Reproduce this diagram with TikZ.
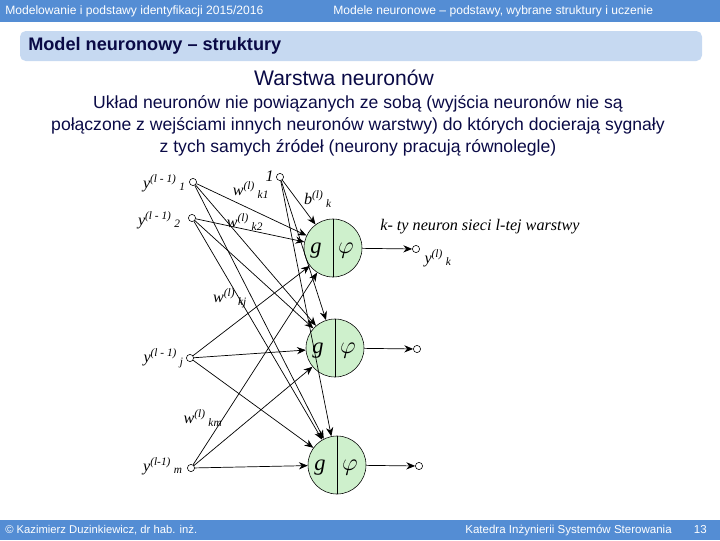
\documentclass[tikz,border=0pt]{standalone}
\usepackage{fontspec}
\setmainfont{Liberation Sans}
\newfontfamily\tnr{Liberation Serif}
\usetikzlibrary{arrows.meta}
\definecolor{barblue}{RGB}{84,141,212}
\definecolor{titlebg}{RGB}{198,217,241}
\definecolor{navy}{RGB}{10,10,70}
\definecolor{neurongreen}{RGB}{206,240,204}
\begin{document}
\begin{tikzpicture}[x=0.025cm,y=-0.025cm,>={Stealth[length=2.2mm,width=1.8mm]},
  neuron/.style={circle,draw,fill=neurongreen,minimum size=1.45cm,inner sep=0pt},
  port/.style={circle,draw,fill=white,minimum size=1.8mm,inner sep=0pt},
  lbl/.style={font=\tnr\itshape\fontsize{11.5}{11.5}\selectfont,inner sep=0pt},
  fn/.style={font=\tnr\itshape\fontsize{16}{16}\selectfont,inner sep=0pt,anchor=base},
  wire/.style={->,line width=0.5pt},
  bartext/.style={text=white,font=\fontsize{8.6}{8.6}\selectfont,inner sep=0pt}]
  \useasboundingbox (0,0) rectangle (720,540);
  \fill[barblue] (0,0) rectangle (720,22);
  \fill[barblue] (0,520) rectangle (720,540);
  \fill[titlebg,rounded corners=4pt] (20,31) rectangle (702,61);
  \node[bartext,anchor=west] (hl) at (5,11) {Modelowanie i podstawy identyfikacji 2015/2016};
  \node[bartext,anchor=west] (hr) at (333,11) {Modele neuronowe – podstawy, wybrane struktury i uczenie};
  \node[bartext,anchor=west,font=\fontsize{8}{8}\selectfont] (fl) at (5,530) {© Kazimierz Duzinkiewicz, dr hab. inż.};
  \node[bartext,anchor=east,font=\fontsize{8.2}{8.2}\selectfont] (fr) at (672,530) {Katedra Inżynierii Systemów Sterowania};
  \node[bartext,anchor=east,font=\fontsize{8.2}{8.2}\selectfont] (pg) at (707,530) {13};
  \node[anchor=west,inner sep=0pt,text=navy,font=\bfseries\fontsize{12.9}{12.9}\selectfont] (title) at (28,46) {Model neuronowy – struktury};
  \node[inner sep=0pt,text=navy,font=\fontsize{15}{15}\selectfont] (head) at (344,78) {Warstwa neuronów};
  \node[inner sep=0pt,text=navy,align=center,font=\fontsize{12.5}{15.6}\selectfont] (para) at (358,126)
    {Układ neuronów nie powiązanych ze sobą (wyjścia neuronów nie są\\
     połączone z wejściami innych neuronów warstwy) do których docierają sygnały\\
     z tych samych źródeł (neurony pracują równolegle)};

  \node[port] (y1) at (193,182) {};
  \node[port] (y2) at (192,218) {};
  \node[port] (yj) at (190,358) {};
  \node[port] (ym) at (191,468) {};
  \node[port] (b) at (280,177) {};
  \node[neuron] (n1) at (333,248) {};
  \node[neuron] (n2) at (335,348) {};
  \node[neuron] (n3) at (337,465) {};
  \node[port] (o1) at (416,249) {};
  \node[port] (o2) at (417,349) {};
  \node[port] (o3) at (419,466) {};

  \draw (n1.north) -- (n1.south);
  \draw (n2.north) -- (n2.south);
  \draw (n3.north) -- (n3.south);
  \node[fn] (g1) at (316,253) {g};
  \node[fn] (f1) at (346,253) {$\varphi$};
  \node[fn] (g2) at (318,353) {g};
  \node[fn] (f2) at (348,353) {$\varphi$};
  \node[fn] (g3) at (320,470) {g};
  \node[fn] (f3) at (350,470) {$\varphi$};

  \draw[wire] (y1) -- (n1);
  \draw[wire] (y1) -- (n2);
  \draw[wire] (y1) -- (n3);
  \draw[wire] (y2) -- (n1);
  \draw[wire] (y2) -- (n2);
  \draw[wire] (y2) -- (n3);
  \draw[wire] (yj) -- (n1);
  \draw[wire] (yj) -- (n2);
  \draw[wire] (yj) -- (n3);
  \draw[wire] (ym) -- (n1);
  \draw[wire] (ym) -- (n2);
  \draw[wire] (ym) -- (n3);
  \draw[wire] (b) -- (n1);
  \draw[wire] (b) -- (n2);
  \draw[wire] (b) -- (n3);
  \draw[wire] (n1) -- (o1);
  \draw[wire] (n2) -- (o2);
  \draw[wire] (n3) -- (o3);

  \node[lbl,anchor=east] (ly1) at (186,183) {y\textsuperscript{(l - 1)}\,\textsubscript{1}};
  \node[lbl,anchor=east] (ly2) at (181,220) {y\textsuperscript{(l - 1)}\,\textsubscript{2}};
  \node[lbl,anchor=east] (lyj) at (184,358) {y\textsuperscript{(l - 1)}\,\textsubscript{j}};
  \node[lbl,anchor=east] (lym) at (183,466) {y\textsuperscript{(l-1)}\,\textsubscript{m}};
  \node[lbl,anchor=east] (lb) at (274,176) {1};
  \node[lbl] (w1) at (251,190) {w\textsuperscript{(l)}\,\textsubscript{k1}};
  \node[lbl] (w2) at (245,222) {w\textsuperscript{(l)}\,\textsubscript{k2}};
  \node[lbl] (wj) at (230,298) {w\textsuperscript{(l)}\,\textsubscript{kj}};
  \node[lbl] (wm) at (203,418) {w\textsuperscript{(l)}\,\textsubscript{km}};
  \node[lbl] (bk) at (318,199) {b\textsuperscript{(l)}\,\textsubscript{k}};
  \node[lbl] (desc) at (480,227) {k- ty neuron sieci l-tej warstwy};
  \node[lbl] (yk) at (438,258) {y\textsuperscript{(l)}\,\textsubscript{k}};
\end{tikzpicture}
\end{document}
